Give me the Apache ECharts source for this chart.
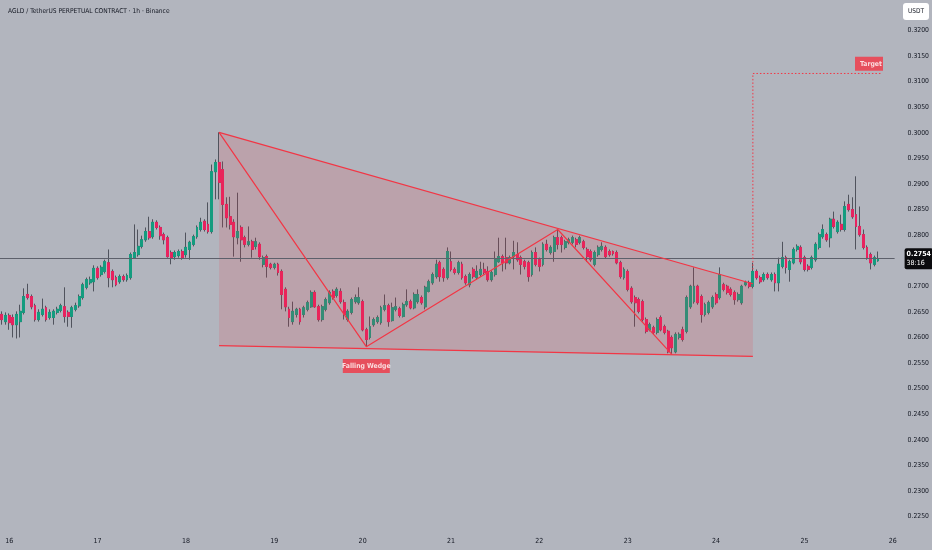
<!DOCTYPE html>
<html><head><meta charset="utf-8">
<script src="https://cdn.jsdelivr.net/npm/echarts@6/dist/echarts.min.js"></script>
<style>html,body{margin:0;padding:0;background:#b2b5be}#c{width:932px;height:550px}</style>
</head><body><div id="c"></div><script>
// Hourly candles [open, close, low, high], from 15th 22:00 to 25th 20:00
const seg1 = [
[.2645,.2635,.2625,.2651],[.2631,.2643,.2625,.2649],[.2643,.2629,.2615,.2647],[.2639,.2625,.2600,.2645],
[.2625,.2645,.2598,.2651],[.2631,.2651,.2600,.2664],[.2649,.2680,.2645,.2696],[.2684,.2678,.2674,.2705],
[.2680,.2660,.2655,.2684],[.2662,.2635,.2631,.2666],[.2635,.2649,.2631,.2655],[.2645,.2655,.2641,.2676],
[.2658,.2635,.2631,.2662],[.2639,.2649,.2635,.2655],[.2639,.2651,.2625,.2655],[.2649,.2655,.2645,.2660],
[.2653,.2662,.2649,.2666],[.2660,.2641,.2629,.2698],[.2649,.2641,.2621,.2653],[.2641,.2658,.2619,.2662],
[.2655,.2662,.2651,.2668],[.2662,.2680,.2658,.2684],[.2678,.2703,.2674,.2707],[.2698,.2713,.2694,.2717],
[.2707,.2713,.2703,.2719],[.2709,.2735,.2690,.2741],[.2735,.2717,.2713,.2739],[.2723,.2737,.2719,.2741],
[.2729,.2748,.2725,.2752],[.2746,.2717,.2698,.2772],[.2729,.2713,.2698,.2733],[.2717,.2703,.2700,.2721],
[.2709,.2719,.2705,.2723],[.2719,.2713,.2709,.2723],[.2713,.2721,.2709,.2725],[.2717,.2762,.2713,.2766],
[.2756,.2766,.2754,.2821],[.2762,.2778,.2758,.2811],[.2778,.2791,.2774,.2799],[.2791,.2807,.2787,.2815],
[.2807,.2795,.2791,.2836],[.2797,.2825,.2793,.2831],[.2825,.2815,.2811,.2829],[.2815,.2799,.2791,.2819],
[.2801,.2791,.2782,.2805],[.2795,.2758,.2756,.2799],[.2766,.2756,.2743,.2770],[.2758,.2766,.2752,.2770],
[.2760,.2768,.2756,.2772],[.2768,.2756,.2752,.2772],[.2762,.2776,.2756,.2805],[.2772,.2786,.2752,.2789],
[.2782,.2797,.2778,.2801],[.2797,.2815,.2793,.2819],[.2811,.2825,.2807,.2834],[.2827,.2811,.2807,.2831],
[.2821,.2807,.2803,.2864],[.2807,.2924,.2803,.2938],[.2924,.2942,.2870,.2948],[.2942,.2903,.2870,.3001]
];
const seg2 = [
[.2928,.2860,.2815,.2944],[.2860,.2834,.2815,.2874],[.2836,.2821,.2811,.2875],[.2825,.2797,.2758,.2831],
[.2795,.2807,.2782,.2883],[.2815,.2791,.2748,.2819],[.2795,.2782,.2776,.2799],[.2782,.2787,.2778,.2817],
[.2787,.2772,.2756,.2791],[.2778,.2787,.2772,.2795],[.2782,.2758,.2752,.2786],[.2743,.2756,.2737,.2760],
[.2758,.2739,.2717,.2762],[.2743,.2737,.2733,.2746],[.2737,.2743,.2733,.2746],[.2743,.2727,.2721,.2746],
[.2729,.2684,.2655,.2733],[.2694,.2660,.2651,.2698],[.2655,.2639,.2621,.2660],[.2631,.2651,.2625,.2670],
[.2645,.2655,.2639,.2658],[.2655,.2631,.2625,.2658],[.2645,.2658,.2639,.2662],[.2655,.2668,.2651,.2672],
[.2660,.2688,.2658,.2692],[.2688,.2660,.2658,.2692],[.2660,.2635,.2631,.2664],[.2635,.2660,.2631,.2664],
[.2655,.2674,.2651,.2678],[.2668,.2688,.2664,.2692],[.2690,.2678,.2674,.2694],[.2682,.2694,.2678,.2698],
[.2690,.2670,.2666,.2696],[.2668,.2645,.2635,.2674],[.2635,.2651,.2631,.2655],[.2649,.2674,.2645,.2678],
[.2670,.2678,.2666,.2684],[.2668,.2678,.2664,.2698],[.2670,.2615,.2612,.2674],[.2615,.2596,.2582,.2619],
[.2600,.2621,.2596,.2641],[.2625,.2635,.2621,.2639],[.2631,.2639,.2627,.2643],[.2629,.2658,.2625,.2662],
[.2655,.2662,.2651,.2684],[.2662,.2631,.2621,.2666],[.2633,.2658,.2631,.2668],[.2655,.2660,.2651,.2678],
[.2656,.2643,.2639,.2660],[.2641,.2664,.2639,.2668],[.2664,.2670,.2660,.2694],[.2670,.2658,.2655,.2674],
[.2658,.2684,.2655,.2688],[.2670,.2684,.2666,.2694],[.2678,.2668,.2664,.2682],[.2660,.2698,.2655,.2701],
[.2690,.2709,.2688,.2713],[.2707,.2723,.2703,.2727],[.2719,.2743,.2715,.2752],[.2746,.2719,.2709,.2750]
];
const seg3 = [
[.2733,.2717,.2709,.2737],[.2717,.2768,.2713,.2776],[.2748,.2733,.2729,.2768],[.2733,.2727,.2723,.2737],
[.2727,.2746,.2723,.2750],[.2743,.2717,.2713,.2748],[.2719,.2707,.2703,.2723],[.2703,.2723,.2698,.2727],
[.2733,.2719,.2715,.2737],[.2717,.2729,.2713,.2741],[.2723,.2733,.2719,.2748],[.2733,.2727,.2723,.2746],
[.2729,.2713,.2709,.2739],[.2713,.2727,.2709,.2731],[.2723,.2752,.2719,.2768],[.2748,.2758,.2746,.2795],
[.2758,.2746,.2729,.2762],[.2756,.2746,.2733,.2795],[.2746,.2756,.2743,.2760],[.2758,.2766,.2733,.2789],
[.2762,.2752,.2748,.2786],[.2756,.2743,.2723,.2760],[.2748,.2739,.2733,.2752],[.2746,.2719,.2709,.2750],
[.2723,.2766,.2719,.2770],[.2766,.2743,.2739,.2776],[.2752,.2739,.2729,.2756],[.2743,.2782,.2739,.2786],
[.2782,.2772,.2768,.2791],[.2766,.2776,.2762,.2780],[.2768,.2795,.2748,.2799],[.2795,.2782,.2772,.2811],
[.2795,.2782,.2766,.2799],[.2776,.2787,.2772,.2791],[.2786,.2791,.2782,.2795],[.2786,.2795,.2782,.2799],
[.2791,.2782,.2776,.2795],[.2786,.2795,.2782,.2799],[.2787,.2776,.2772,.2791],[.2772,.2758,.2748,.2776],
[.2768,.2752,.2748,.2772],[.2743,.2766,.2739,.2770],[.2762,.2776,.2758,.2780],[.2772,.2778,.2768,.2786],
[.2776,.2758,.2754,.2780],[.2768,.2762,.2758,.2772],[.2768,.2764,.2760,.2770],[.2766,.2746,.2743,.2770],
[.2746,.2719,.2715,.2750],[.2717,.2733,.2713,.2737],[.2729,.2694,.2690,.2733],[.2696,.2670,.2666,.2700],
[.2678,.2668,.2621,.2682],[.2674,.2651,.2647,.2678],[.2670,.2635,.2631,.2674],[.2635,.2612,.2608,.2639],
[.2615,.2625,.2612,.2629],[.2619,.2610,.2606,.2623],[.2610,.2635,.2606,.2639],[.2639,.2615,.2612,.2643]
];
const seg4 = [
[.2621,.2610,.2606,.2625],[.2612,.2572,.2569,.2615],[.2600,.2580,.2567,.2604],[.2572,.2606,.2569,.2610],
[.2600,.2606,.2596,.2610],[.2615,.2596,.2592,.2621],[.2612,.2678,.2608,.2682],[.2660,.2700,.2656,.2703],
[.2670,.2700,.2666,.2737],[.2700,.2668,.2664,.2703],[.2680,.2645,.2629,.2684],[.2645,.2664,.2641,.2668],
[.2649,.2668,.2645,.2672],[.2660,.2678,.2656,.2682],[.2684,.2668,.2664,.2688],[.2678,.2723,.2674,.2737],
[.2703,.2694,.2690,.2707],[.2700,.2688,.2684,.2703],[.2694,.2684,.2680,.2698],[.2688,.2674,.2664,.2692],
[.2674,.2684,.2670,.2688],[.2668,.2700,.2664,.2703],[.2703,.2707,.2700,.2711],[.2707,.2700,.2696,.2711],
[.2700,.2729,.2696,.2746],[.2729,.2717,.2713,.2733],[.2717,.2709,.2705,.2721],[.2713,.2723,.2709,.2727],
[.2723,.2717,.2713,.2727],[.2713,.2723,.2709,.2727],[.2723,.2707,.2690,.2727],[.2707,.2743,.2690,.2756],
[.2739,.2756,.2735,.2787],[.2756,.2737,.2725,.2760],[.2733,.2748,.2709,.2752],[.2746,.2772,.2743,.2776],
[.2772,.2778,.2768,.2782],[.2776,.2748,.2743,.2780],[.2756,.2733,.2729,.2760],[.2739,.2733,.2729,.2743],
[.2737,.2756,.2733,.2760],[.2752,.2782,.2748,.2786],[.2776,.2801,.2772,.2805],[.2797,.2811,.2793,.2821],
[.2801,.2791,.2787,.2805],[.2795,.2831,.2776,.2834],[.2831,.2817,.2813,.2846],[.2807,.2825,.2803,.2829],
[.2821,.2811,.2807,.2840],[.2811,.2856,.2807,.2866],[.2860,.2850,.2846,.2879],[.2850,.2836,.2832,.2874],
[.2840,.2817,.2772,.2915],[.2817,.2801,.2797,.2856],[.2801,.2776,.2772,.2811],[.2776,.2756,.2752,.2780],
[.2762,.2746,.2733,.2766],[.2743,.2756,.2739,.2760],[.2750,.2754,.2748,.2768]
];
const priceTicks = [0.2250,0.2300,0.2350,0.2400,0.2450,0.2500,0.2550,0.2600,0.2650,0.2700,
                    0.2750,0.2800,0.2850,0.2900,0.2950,0.3000,0.3050,0.3100,0.3150,0.3200];
const dayLabels = ['16','17','18','19','20','21','22','23','24','25','26'];
// annotation anchors [category index, price]
const wedgePoly = [[59,0.3001],[204,0.2705],[204,0.2563],[59,0.2584]];
const wedgeUpper = [[59,0.3001],[204,0.2705]];
const wedgeLower = [[59,0.2584],[204,0.2563]];
const zigzag = [[59,0.3001],[99,0.2582],[151,0.2811],[182,0.2567]];
const targetPath = [[204,0.2733],[204,0.3116],[239,0.3116]];
const wedgeLabelPos = [[99,0.2544]];
const targetLabelPos = [[235,0.3135]];
const lastPrice = 0.2754;
const countdown = '38:16';

const candles = seg1.concat(seg2, seg3, seg4);
const bodies = candles.map(c => [c[0], c[1], Math.min(c[0], c[1]), Math.max(c[0], c[1])]);
const NCAT = 243;
const categories = [];
for (let k = 0; k < NCAT; k++) {
  const h = k - 2;
  const d = 16 + Math.floor(h / 24);
  const hh = ((h % 24) + 24) % 24;
  categories.push(d + ' ' + String(hh).padStart(2, '0') + ':00');
}
const FONT = "'Liberation Sans Narrow','DejaVu Sans Condensed',sans-serif";
const UP = '#149c7f', DOWN = '#e8225f', WICK = '#50535d', RED = '#f23645';

const chart = echarts.init(document.getElementById('c'), null, {renderer: 'canvas'});
chart.setOption({
  animation: false,
  backgroundColor: '#b2b5be',
  title: {text: 'AGLD / TetherUS PERPETUAL CONTRACT · 1h · Binance', left: 3, top: 3,
    textStyle: {fontSize: 6.6, fontWeight: 'normal', color: '#131722', fontFamily: FONT}},
  grid: {left: -1.2, right: 37.2, top: 0, bottom: 20},
  xAxis: {type: 'category', data: categories, boundaryGap: true,
    axisLine: {show: false}, axisTick: {show: false}, splitLine: {show: false},
    axisLabel: {interval: (i) => (i - 2) % 24 === 0 && dayLabels.includes(categories[i].split(' ')[0]),
      formatter: v => v.split(' ')[0], color: '#131722', fontSize: 7, fontFamily: FONT, margin: 8}},
  yAxis: {type: 'value', position: 'right', min: 0.222365, max: 0.325962, scale: true,
    axisLine: {show: false}, axisTick: {show: false}, splitLine: {show: false},
    axisLabel: {customValues: priceTicks, formatter: v => v.toFixed(4), color: '#131722',
      fontSize: 6.8, fontFamily: FONT, margin: 13}},
  graphic: [
    {type: 'rect', shape: {x: 903, y: 3, width: 26, height: 17, r: 3}, style: {fill: '#ffffff'}, z: 100},
    {type: 'text', x: 916, y: 11.5, style: {text: 'USDT', align: 'center', verticalAlign: 'middle',
      fontSize: 6.5, fill: '#131722', fontFamily: FONT}, z: 101}
  ],
  series: [
    {type: 'candlestick', name: 'wicks', data: candles, barWidth: 2.4, silent: true, z: 2,
      itemStyle: {color: WICK, color0: WICK, borderColor: WICK, borderColor0: WICK, borderWidth: 1}},
    {type: 'candlestick', name: 'bodies', data: bodies, barWidth: 2.4, silent: true, z: 3,
      itemStyle: {color: UP, color0: DOWN, borderColor: UP, borderColor0: DOWN, borderWidth: 1},
      markLine: {silent: true, symbol: ['none', 'none'], animation: false, precision: 4,
        lineStyle: {color: '#5d606b', width: 1, type: 'solid'},
        label: {show: true, position: 'end', distance: 10,
          formatter: p => '{a|' + Number(p.value).toFixed(4) + '}\n{b|' + countdown + '}',
          backgroundColor: '#0b0b0e', borderRadius: 2, padding: [2, 2, 1, 2],
          rich: {a: {color: '#fff', fontSize: 7, fontWeight: 'bold', lineHeight: 9, fontFamily: FONT},
                 b: {color: '#fff', fontSize: 7, lineHeight: 9, fontFamily: FONT}}},
        data: [{yAxis: lastPrice}]}},
    {type: 'custom', name: 'wedgeFill', data: wedgePoly, silent: true, z: 4,
      renderItem: (params, api) => {
        if (params.dataIndex !== 0) return null;
        return {type: 'polygon', shape: {points: wedgePoly.map(p => api.coord(p))},
          style: {fill: 'rgba(242,54,69,0.15)'}};
      }},
    {type: 'line', name: 'wedgeUpper', data: wedgeUpper, symbol: 'none', silent: true, z: 5,
      lineStyle: {color: RED, width: 1.2}},
    {type: 'line', name: 'wedgeLower', data: wedgeLower, symbol: 'none', silent: true, z: 5,
      lineStyle: {color: RED, width: 1.2}},
    {type: 'line', name: 'zigzag', data: zigzag, symbol: 'none', silent: true, z: 5,
      lineStyle: {color: RED, width: 1.2}},
    {type: 'line', name: 'target', data: targetPath, symbol: 'none', silent: true, z: 5,
      lineStyle: {color: RED, width: 1, type: [1.5, 2]}},
    {type: 'scatter', name: 'wedgeLabel', data: wedgeLabelPos, symbol: 'rect', symbolSize: [47, 14],
      silent: true, z: 6, itemStyle: {color: RED},
      label: {show: true, position: 'inside', formatter: 'Falling Wedge', color: '#fff', fontSize: 6.8,
        fontWeight: 'bold', fontFamily: FONT}},
    {type: 'scatter', name: 'targetLabel', data: targetLabelPos, symbol: 'rect', symbolSize: [28, 14],
      symbolOffset: [2, 0], silent: true, z: 6, itemStyle: {color: RED},
      label: {show: true, position: 'inside', offset: [2, 0], formatter: 'Target', color: '#fff', fontSize: 6.8,
        fontWeight: 'bold', fontFamily: FONT}}
  ]
});
</script></body></html>
